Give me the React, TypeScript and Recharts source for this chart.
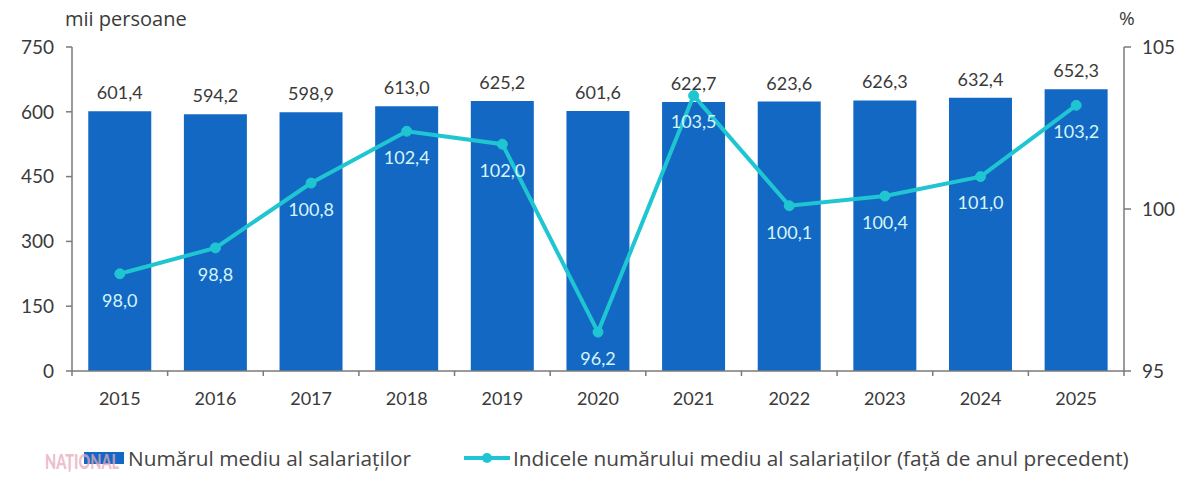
import React from 'react';
import { ComposedChart, Bar, Line, XAxis, YAxis, LabelList, Legend } from 'recharts';

const years = ['2015', '2016', '2017', '2018', '2019', '2020', '2021', '2022', '2023', '2024', '2025'];
const employees = [601.4, 594.2, 598.9, 613.0, 625.2, 601.6, 622.7, 623.6, 626.3, 632.4, 652.3];
const indexValues = [98.0, 98.8, 100.8, 102.4, 102.0, 96.2, 103.5, 100.1, 100.4, 101.0, 103.2];
const leftTicks = [0, 150, 300, 450, 600, 750];
const rightTicks = [95, 100, 105];

const leftUnit = 'mii persoane';
const rightUnit = '%';
const barName = 'Numărul mediu al salariaților';
const lineName = 'Indicele numărului mediu al salariaților (față de anul precedent)';

const data = years.map((year, i) => ({ year, employees: employees[i], index: indexValues[i] }));

const fmt = (v: any) => Number(v).toFixed(1).replace('.', ',');

const FONT = 'Lato, "Open Sans", sans-serif';
const WIDE_FONT = '"Open Sans", Lato, sans-serif';
const BAR_COLOR = '#1368C4';
const LINE_COLOR = '#1FC6D2';
const AXIS_COLOR = '#7a7a7a';
const TEXT_COLOR = '#3a3a3a';

const W = 1200;
const H = 486;
const PLOT_LEFT = 72;
const PLOT_RIGHT = 1124;
const BAND = (PLOT_RIGHT - PLOT_LEFT) / years.length;

const XTick = (props: any) => {
  const { x, y, payload, index } = props;
  return (
    <g>
      <line x1={x - BAND / 2} x2={x - BAND / 2} y1={y} y2={y + 5} stroke={AXIS_COLOR} strokeWidth={1.5} />
      {index === years.length - 1 && (
        <line x1={x + BAND / 2} x2={x + BAND / 2} y1={y} y2={y + 5} stroke={AXIS_COLOR} strokeWidth={1.5} />
      )}
      <text x={x} y={y + 34} textAnchor="middle" fill={TEXT_COLOR} fontSize={18} fontFamily={FONT}>
        {payload.value}
      </text>
    </g>
  );
};

const LegendContent = () => (
  <div style={{ position: 'relative', width: W, height: 30, fontFamily: WIDE_FONT, fontSize: 20.8, color: '#444' }}>
    <div style={{ position: 'absolute', left: 84, top: 8, width: 40, height: 12, background: BAR_COLOR }} />
    <div style={{ position: 'absolute', left: 128, top: 1, whiteSpace: 'nowrap', lineHeight: '26px' }}>{barName}</div>
    <svg style={{ position: 'absolute', left: 464, top: 4 }} width={46} height={20}>
      <line x1={0} x2={46} y1={10} y2={10} stroke={LINE_COLOR} strokeWidth={4} />
      <circle cx={23} cy={10} r={5} fill={LINE_COLOR} />
    </svg>
    <div style={{ position: 'absolute', left: 513, top: 1, whiteSpace: 'nowrap', lineHeight: '26px' }}>{lineName}</div>
  </div>
);

export default function App() {
  return (
    <div style={{ position: 'relative', width: W, height: H, background: '#fff' }}>
      <style>{'body{margin:0;}'}</style>
      <ComposedChart
        width={W}
        height={H}
        data={data}
        margin={{ top: 47, right: 0, bottom: 85, left: 0 }}
        barCategoryGap="17%"
      >
        <XAxis
          dataKey="year"
          height={30}
          tickLine={false}
          tickSize={0}
          tickMargin={0}
          tick={<XTick />}
          axisLine={{ stroke: AXIS_COLOR, strokeWidth: 1.5 }}
          interval={0}
        />
        <YAxis
          yAxisId="left"
          orientation="left"
          width={PLOT_LEFT}
          domain={[0, 750]}
          ticks={leftTicks}
          tickSize={6}
          tickMargin={12}
          axisLine={{ stroke: AXIS_COLOR, strokeWidth: 1.5 }}
          tickLine={{ stroke: AXIS_COLOR, strokeWidth: 1.5 }}
          tick={{ fill: TEXT_COLOR, fontSize: 19, fontFamily: FONT }}
        />
        <YAxis
          yAxisId="right"
          orientation="right"
          width={W - PLOT_RIGHT}
          domain={[95, 105]}
          ticks={rightTicks}
          tickSize={7}
          tickMargin={11}
          axisLine={{ stroke: AXIS_COLOR, strokeWidth: 1.5 }}
          tickLine={{ stroke: AXIS_COLOR, strokeWidth: 1.5 }}
          tick={{ fill: TEXT_COLOR, fontSize: 19, fontFamily: FONT }}
        />
        <Legend
          layout="horizontal"
          verticalAlign="middle"
          align="center"
          wrapperStyle={{ top: 444, left: 0, width: W, height: 30 }}
          content={<LegendContent />}
        />
        <Bar yAxisId="left" dataKey="employees" name={barName} fill={BAR_COLOR} isAnimationActive={false}>
          <LabelList
            dataKey="employees"
            position="top"
            offset={12}
            formatter={fmt}
            fill={TEXT_COLOR}
            fontSize={18}
            fontFamily={FONT}
          />
        </Bar>
        <Line
          yAxisId="right"
          dataKey="index"
          name={lineName}
          stroke={LINE_COLOR}
          strokeWidth={4}
          dot={{ r: 5, fill: LINE_COLOR, stroke: LINE_COLOR, strokeWidth: 1 }}
          activeDot={false}
          isAnimationActive={false}
        >
          <LabelList
            dataKey="index"
            position="bottom"
            offset={20}
            formatter={fmt}
            fill="#D4F5F9"
            fontSize={18}
            fontFamily={FONT}
          />
        </Line>
      </ComposedChart>
      <div style={{ position: 'absolute', left: 65, top: 5, fontFamily: WIDE_FONT, fontSize: 20, color: TEXT_COLOR }}>{leftUnit}</div>
      <div style={{ position: 'absolute', left: 1119, top: 5, fontFamily: WIDE_FONT, fontSize: 19, color: TEXT_COLOR }}>{rightUnit}</div>
      <svg style={{ position: 'absolute', left: 44, top: 446 }} width={82} height={32}>
        <text x={1} y={16} transform="scale(1,1.45)" fontFamily={FONT} fontSize={14.5} fontWeight={900} fill="#E7A9BA" opacity={0.75}>
          NAȚIONAL
        </text>
      </svg>
    </div>
  );
}
